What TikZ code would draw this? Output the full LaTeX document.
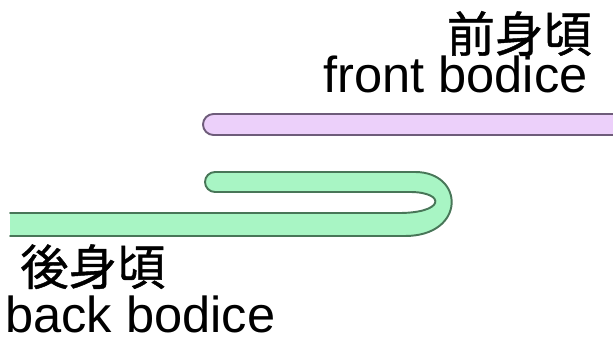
\documentclass[tikz,border=0pt]{standalone}
\usepackage{fontspec}
\setmainfont{Liberation Sans}
\newfontfamily\jpfont[FakeBold=0.9]{Noto Sans CJK JP}
\definecolor{frontfill}{RGB}{236,208,250}
\definecolor{frontline}{RGB}{110,92,122}
\definecolor{backfill}{RGB}{168,245,196}
\definecolor{backline}{RGB}{72,118,88}

\begin{document}
\begin{tikzpicture}[x=0.02cm,y=-0.02cm,
  kanji/.style={inner sep=0pt,text depth=0pt,font=\jpfont\fontsize{27.5}{27.5}\selectfont},
  latin/.style={inner sep=0pt,font=\fontsize{28.8}{28.8}\selectfont},
  edge/.style={line width=1.1pt,line cap=round}]
\useasboundingbox (0,0) rectangle (613,344);
% front bodice: a flat strip running off the right edge
\coordinate (f1) at (620,114);
\coordinate (f2) at (620,135);
\fill[frontfill,rounded corners=0.21cm] (f1) -- (203,114) -- (203,135) -- (f2) -- cycle;
\draw[edge,frontline,rounded corners=0.21cm] (f1) -- (203,114) -- (203,135) -- (f2);
% back bodice: folded back on itself
\coordinate (b1) at (10,213);
\coordinate (b2) at (10,236);
\fill[backfill] (b1) -- (395,213) .. controls (446,214) and (446,192) .. (410,192)
  [rounded corners=0.2cm] -- (205,192) -- (205,172) -- (300,172) [sharp corners]
  -- (415,172) .. controls (465,172) and (466,236) .. (405,236) -- (b2) -- cycle;
\draw[edge,backline] (b1) -- (395,213) .. controls (446,214) and (446,192) .. (410,192)
  [rounded corners=0.2cm] -- (205,192) -- (205,172) -- (300,172) [sharp corners]
  -- (415,172) .. controls (465,172) and (466,236) .. (405,236) -- (b2);
% labels
\node[kanji,anchor=base east] (frontjp) at (592,52) {前身頃};
\node[latin,anchor=base east] (fronten) at (588,93) {front bodice};
\node[kanji,anchor=base west] (backjp) at (20,285) {後身頃};
\node[latin,anchor=base west] (backen) at (5,333) {back bodice};
\end{tikzpicture}
\end{document}
